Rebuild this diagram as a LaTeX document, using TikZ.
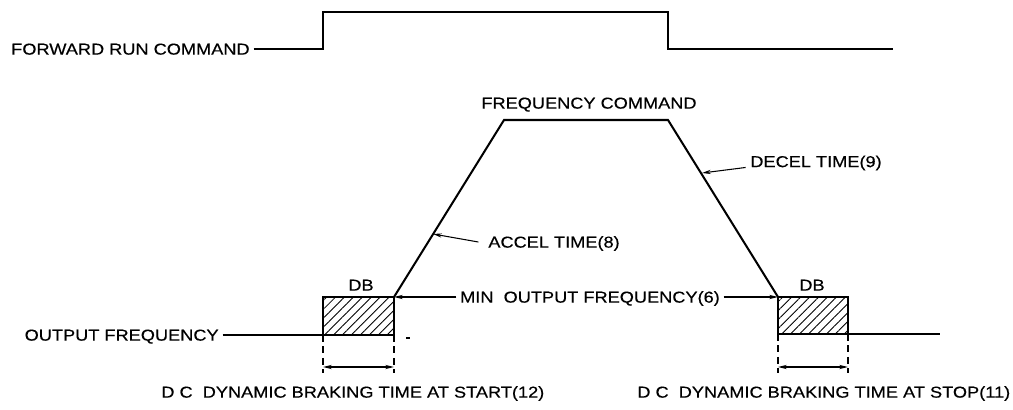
\documentclass[tikz,border=0pt]{standalone}
\usepackage{fontspec}
\setmainfont{Liberation Sans}[FakeStretch=1.15,FakeBold=0.35]
\usetikzlibrary{arrows.meta,patterns.meta}
\begin{document}
\begin{tikzpicture}[x=0.02cm,y=-0.02cm,
  lbl/.style={font=\fontsize{9}{10}\selectfont,inner sep=0pt,text height=6.4pt,text depth=0pt},
  wave/.style={line width=1.6pt,line join=miter},
  ramp/.style={line width=1.15pt,line join=miter},
  pointer/.style={line width=0.6pt,-{Stealth[length=5pt,width=2.4pt]}},
  dim/.style={line width=0.6pt,{Stealth[length=5pt,width=2.4pt]}-{Stealth[length=5pt,width=2.4pt]}},
  ext/.style={line width=0.6pt,dash pattern=on 4pt off 2.5pt},
  dbbox/.style={draw,line width=1.3pt,pattern={Lines[angle=45,distance=3.6pt,line width=0.5pt]}}]
\useasboundingbox (0,0) rectangle (1013,409);

% forward run command
\node[lbl,anchor=east] (frc) at (250,49) {FORWARD RUN COMMAND};
\coordinate (fr1) at (323,49);
\coordinate (fr2) at (323,12);
\coordinate (fr3) at (668,12);
\coordinate (fr4) at (668,49);
\coordinate (fr5) at (893,49);
\draw[wave] ([xshift=2pt]frc.east) -- (fr1) -- (fr2) -- (fr3) -- (fr4) -- (fr5);

% output frequency
\node[lbl,anchor=east] (of) at (219,335) {OUTPUT FREQUENCY};
\coordinate (s1) at (323,335);
\coordinate (s2) at (394,297);
\coordinate (p1) at (504,120);
\coordinate (p2) at (668,120);
\coordinate (t1) at (778,297);
\coordinate (t2) at (848,334);
\coordinate (oend) at (940,334);
\draw[dbbox] (s1) rectangle (s2);
\draw[dbbox] (t1) rectangle (t2);
\draw[wave] ([xshift=2pt]of.east) -- (s1);
\draw[ramp] (s2) -- (p1) -- (p2) -- (t1);
\draw[wave] (t2) -- (oend);

% labels
\node[lbl] (fc) at (589,103) {FREQUENCY COMMAND};
\node[lbl] (db1) at (361,285) {DB};
\node[lbl] (db2) at (812,285) {DB};
\node[lbl] (min) at (590,297) {MIN\ \ OUTPUT FREQUENCY(6)};
\draw[pointer] ([xshift=-2pt]min.west) -- (s2);
\draw[pointer] ([xshift=2pt]min.east) -- (t1);

\node[lbl,anchor=west] (acc) at (488,242) {ACCEL TIME(8)};
\coordinate (atip) at (433,234);
\draw[pointer] ([xshift=-5.5pt]acc.west) -- (atip);

\node[lbl,anchor=west] (dec) at (750,161.5) {DECEL TIME(9)};
\coordinate (dtip) at (702,173);
\draw[pointer] ([xshift=-2.5pt]dec.south west) -- (dtip);

% dimension lines
\coordinate (e1) at (323,373);
\coordinate (e2) at (394,373);
\coordinate (e3) at (778,373);
\coordinate (e4) at (848,373);
\coordinate (b2) at (394,335);
\coordinate (b3) at (778,334);
\draw[ext] (s1) -- (e1);
\draw[ext] (b2) -- (e2);
\draw[ext] (b3) -- (e3);
\draw[ext] (t2) -- (e4);
\draw[dim] (323,367) -- (394,367);
\draw[dim] (778,367) -- (848,367);

\node[lbl,anchor=west] (bs) at (161,392) {D C\ \ DYNAMIC BRAKING TIME AT START(12)};
\node[lbl,anchor=west] (be) at (637,392) {D C\ \ DYNAMIC BRAKING TIME AT STOP(11)};

% small stray mark
\draw[line width=0.6pt] (406,338) -- (410,338);
\end{tikzpicture}
\end{document}
